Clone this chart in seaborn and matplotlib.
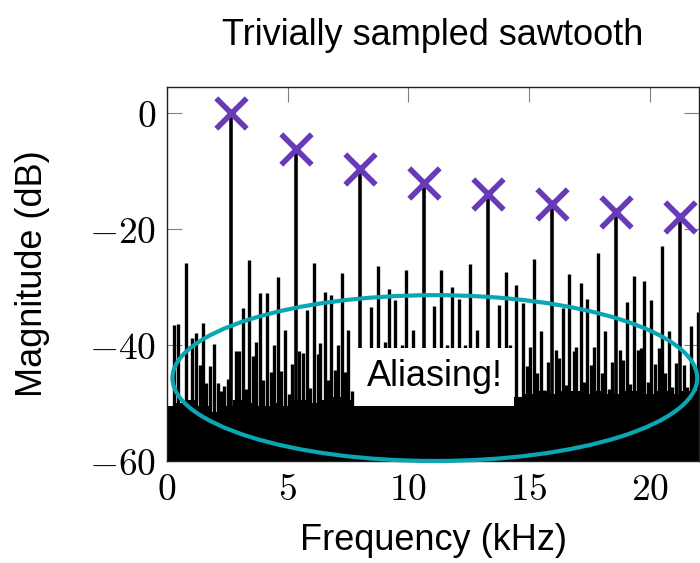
import numpy as np
import pandas as pd
import matplotlib
matplotlib.use("Agg")
import matplotlib.pyplot as plt
from matplotlib.patches import Ellipse
import seaborn as sns

# harmonics of the sawtooth (kHz, dB)
harm_freq = [2.66, 5.34, 7.99, 10.65, 13.29, 15.96, 18.60, 21.26]
harm_db = [0.0, -6.2, -9.7, -12.1, -14.0, -15.6, -17.0, -18.0]

# aliased components (kHz, dB)
alias_freq = [0.30, 0.47, 0.77, 1.02, 1.20, 1.36, 1.48, 1.63, 1.77, 1.96, 2.10, 2.24, 2.38, 2.54,
              2.85, 2.99, 3.13, 3.27, 3.40, 3.57, 3.69, 3.87, 3.98, 4.15, 4.29, 4.44, 4.61, 4.73,
              4.90, 5.05, 5.17, 5.49, 5.63, 5.80, 5.93, 6.09, 6.25, 6.36, 6.53, 6.67, 6.80, 6.97,
              7.08, 7.25, 7.36, 7.52, 7.66, 8.44, 8.73, 9.02, 9.18, 9.46, 9.76, 9.92, 10.19,
              11.08, 11.37, 11.60, 11.82, 12.10, 12.35, 12.57, 12.84, 13.75, 14.03, 14.22, 14.48,
              14.76, 14.92, 15.05, 15.21, 15.35, 15.50, 15.64, 15.80, 16.13, 16.25, 16.40, 16.54,
              16.67, 16.85, 16.97, 17.14, 17.27, 17.41, 17.56, 17.70, 17.87, 18.01, 18.15, 18.31,
              18.45, 18.77, 18.91, 19.07, 19.21, 19.35, 19.51, 19.66, 19.79, 19.93, 20.07, 20.22,
              20.39, 20.53, 20.66, 20.80, 20.95, 21.09, 21.42, 21.56, 21.70, 21.86, 22.00]
alias_db = [-36.6, -36.4, -25.9, -38.8, -37.9, -43.4, -36.2, -46.6, -43.7, -39.8, -46.5, -48.0, -47.0, -45.9,
            -41.1, -41.1, -33.7, -47.5, -25.3, -41.9, -39.4, -31.0, -46.0, -31.0, -44.6, -40.0, -28.3, -44.5,
            -37.4, -48.5, -43.2, -41.1, -41.4, -33.9, -47.4, -25.9, -41.6, -39.7, -30.8, -46.1, -31.4, -44.3,
            -40.0, -27.6, -44.6, -37.4, -48.0, -33.4, -26.4, -39.5, -30.4, -32.2, -40.0, -27.0, -37.4,
            -33.2, -27.0, -40.0, -30.0, -32.0, -40.0, -26.0, -37.4, -33.1, -27.4, -40.0, -29.7,
            -32.7, -43.6, -40.3, -25.2, -44.9, -37.5, -47.8, -42.9, -40.8, -42.3, -33.7, -46.9,
            -27.8, -41.0, -40.3, -29.3, -46.3, -32.1, -43.4, -40.4, -24.2, -44.9, -37.5, -47.5,
            -42.9, -40.8, -42.6, -32.5, -46.7, -28.1, -40.9, -40.6, -28.9, -46.3, -32.2, -43.2,
            -40.6, -23.0, -44.9, -37.5, -47.2, -43.1, -43.4, -47.2, -36.8, -44.0, -34.3]

# dense low-level floor of the spectrum
floor_freq = [0.0, 0.5, 1.0, 1.5, 2.0, 2.5, 3.0, 3.5, 4.0, 4.5, 5.0, 5.5, 6.0, 6.5, 7.0, 7.5,
              8.0, 8.5, 9.0, 9.5, 10.0, 10.5, 11.0, 11.5, 12.0, 12.5, 13.0, 13.5, 14.0, 14.5,
              15.0, 15.5, 16.0, 16.5, 17.0, 17.5, 18.0, 18.5, 19.0, 19.5, 20.0, 20.5, 21.0, 21.5, 22.05]
floor_db = [-50.5, -50.0, -49.5, -50.5, -51.5, -50.5, -49.5, -50.0, -50.5, -50.0, -50.5, -49.5, -50.0,
            -49.5, -49.0, -49.5, -50.5, -50.5, -50.5, -50.5, -50.5, -50.5, -50.5, -50.5, -50.5, -50.5,
            -50.5, -50.5, -50.0, -49.0, -48.5, -48.0, -48.5, -48.0, -48.0, -48.5, -48.0, -48.5, -48.0,
            -48.0, -48.5, -48.0, -48.5, -48.0, -48.0]

x_ticks = [0, 5, 10, 15, 20]
y_ticks = [0, -20, -40, -60]

harm = pd.DataFrame({"freq": harm_freq, "db": harm_db})

sns.set_theme(style="ticks")
plt.rcParams["font.family"] = ["Liberation Sans", "DejaVu Sans"]
plt.rcParams["mathtext.fontset"] = "cm"
plt.rcParams["text.color"] = "black"
plt.rcParams["axes.labelcolor"] = "black"

fig = plt.figure(figsize=(7.0, 5.63), dpi=100)
ax = fig.add_axes([0.2386, 0.1812, 0.7600, 0.6643])

ax.fill_between(floor_freq, -60, floor_db, step="mid", color="black", lw=0, zorder=1)
ax.vlines(alias_freq, -60, alias_db, color="black", lw=2.4, zorder=2)
ax.vlines(harm_freq, -60, harm_db, color="black", lw=2.6, zorder=2)
sns.scatterplot(data=harm, x="freq", y="db", marker="x", s=480, color="#673ab7",
                linewidth=4, ax=ax, zorder=4, clip_on=False)

ax.add_patch(Ellipse((11.1, -45.7), 21.75, 28.6, fill=False, edgecolor="#0aa6b2",
                     lw=3.0, zorder=3, clip_on=False))
ax.text(11.1, -45.5, "Aliasing!", ha="center", va="center", fontsize=26, zorder=5,
        bbox=dict(boxstyle="square,pad=0.32", facecolor="white", edgecolor="none"))

ax.set_xlim(0, 22.05)
ax.set_ylim(-60, 4.5)
ax.set_xticks(x_ticks)
ax.set_xticklabels([f"${v}$" for v in x_ticks])
ax.set_yticks(y_ticks)
ax.set_yticklabels([f"${v}$" for v in y_ticks])
ax.tick_params(direction="in", length=11, width=0.8, color="#808080", labelcolor="black",
               labelsize=27, top=True, right=True, pad=8)
for sp in ax.spines.values():
    sp.set_visible(True)
    sp.set_color("#202020")
    sp.set_linewidth(1.0)

ax.set_xlabel("Frequency (kHz)", fontsize=26, labelpad=11)
ax.set_ylabel("Magnitude (dB)", fontsize=26, labelpad=28)
ax.set_title("Trivially sampled sawtooth", fontsize=26, pad=30)

fig.savefig("out.png", dpi=100)
